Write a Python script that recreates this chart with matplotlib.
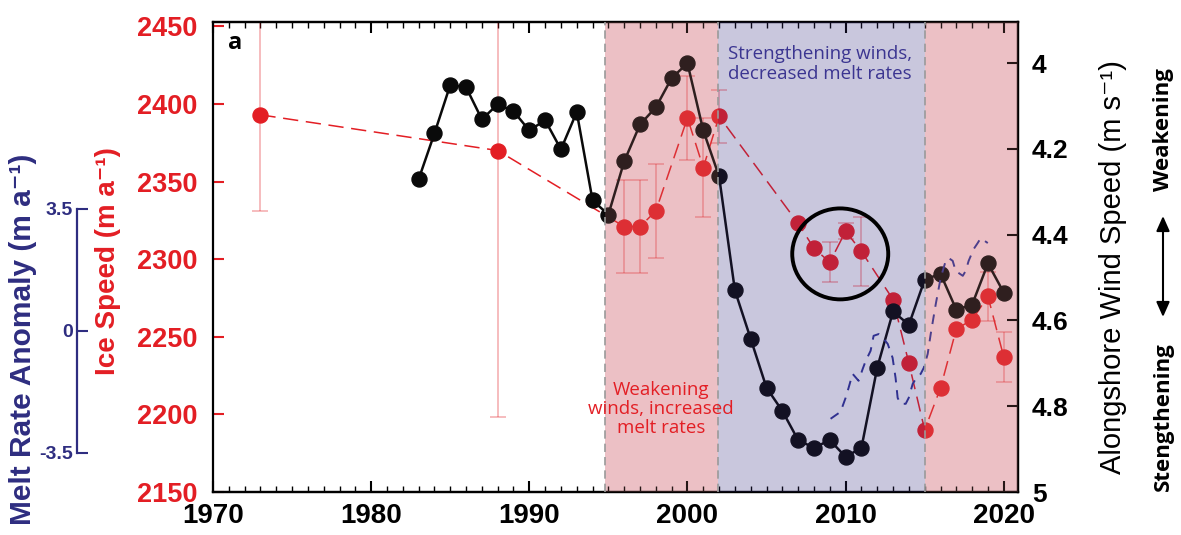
import numpy as np
import matplotlib
matplotlib.use("Agg")
import matplotlib.pyplot as plt
from matplotlib.patches import Ellipse
from matplotlib.ticker import MultipleLocator

plt.rcParams['font.family'] = ['Liberation Sans', 'DejaVu Sans']
plt.rcParams['axes.unicode_minus'] = False

# ---------------- data ----------------
wind_years = list(range(1983, 2021))
wind_speed = [4.271, 4.164, 4.051, 4.056, 4.131, 4.096, 4.112, 4.157, 4.133, 4.201,
              4.114, 4.320, 4.353, 4.229, 4.143, 4.103, 4.035, 4.000, 4.157, 4.264,
              4.530, 4.643, 4.757, 4.811, 4.879, 4.897, 4.879, 4.918, 4.897, 4.710,
              4.579, 4.610, 4.505, 4.491, 4.575, 4.563, 4.467, 4.535]

ice_years = [1973, 1988, 1996, 1997, 1998, 2000, 2001, 2002, 2007, 2008, 2009,
             2010, 2011, 2013, 2014, 2015, 2016, 2017, 2018, 2019, 2020]
ice_speed = [2393, 2370, 2321, 2321, 2331, 2391, 2359, 2392, 2323, 2307, 2298,
             2318, 2305, 2274, 2233, 2190, 2217, 2255, 2261, 2276, 2237]
ice_error = [62, 172, 30, 30, 30, 27, 32, 17, np.nan, np.nan, 13,
             5, 22, np.nan, np.nan, np.nan, np.nan, np.nan, np.nan, 16, 16]

melt_years = [2009.05, 2009.68, 2010.00, 2010.19, 2010.44, 2010.82, 2011.08, 2011.27,
              2011.58, 2011.77, 2012.09, 2012.41, 2012.66, 2012.97, 2013.16, 2013.29,
              2013.48, 2013.80, 2013.99, 2014.24, 2014.43, 2014.75, 2014.94, 2015.19,
              2015.38, 2015.70, 2016.01, 2016.33, 2016.52, 2016.77, 2016.96, 2017.41,
              2017.59, 2017.78, 2018.10, 2018.35, 2018.54, 2018.99]
melt_anom = [-2.52, -2.32, -1.92, -1.63, -1.23, -1.43, -1.09, -0.86,
             -0.57, -0.14, -0.09, -0.23, -0.37, -0.77, -1.35, -1.92,
             -2.09, -2.09, -1.92, -1.52, -1.38, -1.23, -1.06, -0.66,
             -0.09, 0.77, 1.52, 2.01, 2.09, 2.01, 1.72, 1.58,
             1.72, 2.01, 2.35, 2.52, 2.66, 2.52]

x_ticks = [1970, 1980, 1990, 2000, 2010, 2020]
ice_ticks = [2150, 2200, 2250, 2300, 2350, 2400, 2450]
wind_ticks = [4.0, 4.2, 4.4, 4.6, 4.8, 5.0]
wind_tick_labels = ['4', '4.2', '4.4', '4.6', '4.8', '5']
melt_ticks = [-3.5, 0, 3.5]
melt_tick_labels = ['-3.5', '0', '3.5']

# periods: (start, end, kind)
periods = [(1994.8, 2001.9, 'weak'), (2001.9, 2015.0, 'strong'), (2015.0, 2020.9, 'weak')]
boundaries = [1994.8, 2001.9, 2015.0]

# ---------------- style ----------------
RED = '#E31E24'
NAVY = '#2E2D80'
BLACK = '#0a0a0a'
base_col = {'weak': '#F6D3D9', 'strong': '#EDEDF2'}
over_col = {'weak': (200/255, 120/255, 120/255), 'strong': (60/255, 50/255, 140/255)}
MYRIAD = ['Open Sans', 'DejaVu Sans']

fig = plt.figure(figsize=(11.81, 5.35), dpi=100)
ax = fig.add_axes([213/1181, 1 - 492/535, 805/1181, 470/535])
axw = ax.twinx()
axm = ax.twinx()

# base shading (behind data)
for s, e, k in periods:
    ax.axvspan(s, e, color=base_col[k], lw=0, zorder=0)

# ice speed
yrs = np.array(ice_years, float)
spd = np.array(ice_speed, float)
err = np.array(ice_error, float)
m = ~np.isnan(err)
ax.errorbar(yrs[m], spd[m], yerr=err[m], fmt='none', ecolor=RED, alpha=0.35,
            elinewidth=1.2, capsize=5.8, capthick=1.2, zorder=2)
ax.plot(yrs, spd, color=RED, lw=1.1, ls=(0, (10, 5)), marker='o', ms=10.8,
        mfc=RED, mec=RED, zorder=3)

# wind speed
axw.plot(wind_years, wind_speed, color=BLACK, lw=1.8, marker='o', ms=10.8,
         mfc=BLACK, mec=BLACK, zorder=3)

# melt anomaly
axm.plot(melt_years, melt_anom, color='#2E3192', lw=1.4, ls=(0, (5, 4)), zorder=5)

# overlay tint (on top of data)
for s, e, k in periods:
    axm.axvspan(s, e, color=over_col[k], alpha=0.2, lw=0, zorder=10)
for b in boundaries:
    axm.axvline(b, color='#9a9a9a', lw=1.2, ls=(0, (5, 3)), zorder=11)

# circle
circ = Ellipse((2009.66, 2303.4), 6.07, 58.6, transform=ax.transData,
               fill=False, ec='black', lw=2.8, zorder=20)
axm.add_patch(circ)

# texts
axm.text((820 - 213) / 805, (492 - 64) / 470,
         'Strengthening winds,\ndecreased melt rates', transform=ax.transAxes,
         ha='center', va='center', color='#3B3591', fontsize=13.5,
         family=MYRIAD, linespacing=1.1, zorder=21)
axm.text((661 - 213) / 805, (492 - 409) / 470,
         'Weakening\nwinds, increased\nmelt rates', transform=ax.transAxes,
         ha='center', va='center', color=RED, fontsize=13.5,
         family=MYRIAD, linespacing=1.1, zorder=21)
axm.text((235 - 213) / 805, (492 - 43) / 470, 'a', transform=ax.transAxes,
         ha='center', va='center', color='black', fontsize=17, fontweight='bold',
         family=MYRIAD, zorder=21)

# ---------------- axes ----------------
ax.set_xlim(1970, 2020.9)
ax.set_ylim(2150, 2452.8)
axw.set_ylim(5.0, 3.904)
axm.set_ylim(-4.62, 8.86)

for a in (ax, axw, axm):
    for sp in a.spines.values():
        sp.set_linewidth(1.6)
        sp.set_color('black')

ax.set_xticks(x_ticks, [str(t) for t in x_ticks], fontweight='bold')
ax.xaxis.set_minor_locator(MultipleLocator(1))
ax.tick_params(axis='x', which='major', direction='in', top=True, length=8, width=1.5,
               labelsize=20, pad=8, colors='black')
ax.tick_params(axis='x', which='minor', direction='in', top=True, length=4, width=1.0)

ax.set_yticks(ice_ticks, [str(t) for t in ice_ticks], fontweight='bold')
ax.tick_params(axis='y', direction='in', length=8, width=1.5, color=RED,
               labelcolor=RED, labelsize=19.5, pad=11)

axw.spines['left'].set_visible(False)
axw.set_yticks(wind_ticks, wind_tick_labels, fontweight='bold')
axw.tick_params(axis='y', direction='in', length=8, width=1.5, color='black',
                labelcolor='black', labelsize=19, pad=10)

for k in ('top', 'bottom', 'right'):
    axm.spines[k].set_visible(False)
axm.yaxis.tick_left()
axm.spines['left'].set_position(('axes', (77 - 213) / 805))
axm.spines['left'].set_bounds(-3.5, 3.5)
axm.spines['left'].set_color(NAVY)
axm.set_yticks(melt_ticks, melt_tick_labels, fontweight='bold')
axm.tick_params(axis='y', direction='in', length=8, width=1.5, color=NAVY,
                labelcolor=NAVY, labelsize=14, pad=3)

# axis labels
ax.text((108 - 213) / 805, (492 - 261) / 470, 'Ice Speed (m a\u207b\u00b9)',
        transform=ax.transAxes, rotation=90, ha='center', va='center',
        color=RED, fontsize=20, fontweight='bold')
ax.text((23 - 213) / 805, (492 - 339) / 470, 'Melt Rate Anomaly (m a\u207b\u00b9)',
        transform=ax.transAxes, rotation=90, ha='center', va='center',
        color=NAVY, fontsize=21.5, fontweight='bold')
axw.text((1113 - 213) / 805, (492 - 267) / 470, 'Alongshore Wind Speed (m s\u207b\u00b9)',
         transform=ax.transAxes, rotation=90, ha='center', va='center',
         color='black', fontsize=21)
axw.text((1163 - 213) / 805, (492 - 130) / 470, 'Weakening',
         transform=ax.transAxes, rotation=90, ha='center', va='center',
         color='black', fontsize=16, fontweight='bold', family=MYRIAD)
axw.text((1163 - 213) / 805, (492 - 417) / 470, 'Stengthening',
         transform=ax.transAxes, rotation=90, ha='center', va='center',
         color='black', fontsize=16, fontweight='bold', family=MYRIAD)
axw.annotate('', xy=((1163 - 213) / 805, (492 - 216) / 470), xycoords='axes fraction',
             xytext=((1163 - 213) / 805, (492 - 317) / 470), textcoords='axes fraction',
             arrowprops=dict(arrowstyle='<|-|>,head_length=0.9,head_width=0.4',
                             color='black', lw=1.5, shrinkA=0, shrinkB=0),
             annotation_clip=False)

fig.savefig('out.png', dpi=100)
